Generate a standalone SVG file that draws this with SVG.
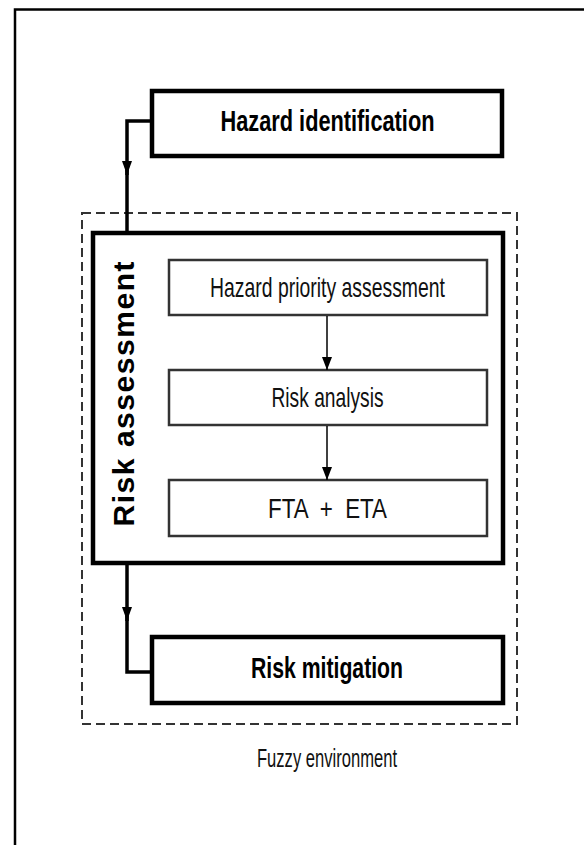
<svg xmlns="http://www.w3.org/2000/svg" width="584" height="845" viewBox="0 0 584 845">
<style>
.frame{fill:none;stroke:#000;stroke-width:2.5}
.thick{fill:#fff;stroke:#000;stroke-width:4.5}
.inner{fill:#fff;stroke:#333;stroke-width:2.5}
.dash{fill:none;stroke:#333;stroke-width:2;stroke-dasharray:9 5}
.conn{fill:none;stroke:#000;stroke-width:3.5}
.thin{fill:none;stroke:#000;stroke-width:1.5}
.tb{font-family:"Liberation Sans",Arial,sans-serif;font-weight:bold;fill:#000;text-anchor:middle}
.tr{font-family:"Liberation Sans",Arial,sans-serif;fill:#111;text-anchor:middle}
</style>
<defs>
<marker id="ah" viewBox="0 0 14 10" refX="14" refY="5" markerWidth="14" markerHeight="10" markerUnits="userSpaceOnUse" orient="auto">
<path d="M0,0 L14,5 L0,10 z" fill="#000"/>
</marker>
<marker id="as" viewBox="0 0 13 10" refX="13" refY="5" markerWidth="13" markerHeight="10" markerUnits="userSpaceOnUse" orient="auto">
<path d="M0,0 L13,5 L0,10 z" fill="#000"/>
</marker>
</defs>
<rect width="584" height="845" fill="#fff"/>
<path class="frame" d="M15,845 V9.5 H584"/>
<g id="fuzzy-environment">
<rect class="dash" x="82" y="213" width="435" height="511"/>
<text class="tr" x="327" y="766.5" font-size="25" textLength="140" lengthAdjust="spacingAndGlyphs">Fuzzy environment</text>
</g>
<g id="hazard-identification">
<rect class="thick" x="152" y="91" width="350" height="65"/>
<text class="tb" x="327.5" y="131" font-size="30" textLength="214" lengthAdjust="spacingAndGlyphs">Hazard identification</text>
</g>
<g id="risk-assessment">
<rect class="thick" x="93" y="233" width="410" height="330"/>
<text class="tb" transform="translate(134,394) rotate(-90)" x="0" y="0" font-size="30" textLength="265" lengthAdjust="spacing">Risk assessment</text>
</g>
<g id="hazard-priority-assessment">
<rect class="inner" x="169" y="260" width="318" height="55"/>
<text class="tr" x="327.5" y="297" font-size="28" textLength="235" lengthAdjust="spacingAndGlyphs">Hazard priority assessment</text>
</g>
<g id="risk-analysis">
<rect class="inner" x="169" y="370" width="318" height="55"/>
<text class="tr" x="327.5" y="407" font-size="28" textLength="112" lengthAdjust="spacingAndGlyphs">Risk analysis</text>
</g>
<g id="fta-eta">
<rect class="inner" x="169" y="480" width="318" height="56"/>
<text class="tr" x="327.5" y="517.5" font-size="27" textLength="119" lengthAdjust="spacingAndGlyphs" xml:space="preserve">FTA  +  ETA</text>
</g>
<g id="risk-mitigation">
<rect class="thick" x="152" y="637" width="351" height="66"/>
<text class="tb" x="327" y="678" font-size="30" textLength="152" lengthAdjust="spacingAndGlyphs">Risk mitigation</text>
</g>
<g id="connectors">
<path class="conn" d="M152,121 H127 V175" marker-end="url(#ah)"/>
<path class="conn" d="M127,170 V231"/>
<path class="conn" d="M127,565 V621" marker-end="url(#ah)"/>
<path class="conn" d="M127,616 V672 H150"/>
<path class="thin" d="M327,316 V370" marker-end="url(#as)"/>
<path class="thin" d="M327,426 V480" marker-end="url(#as)"/>
</g>
</svg>
